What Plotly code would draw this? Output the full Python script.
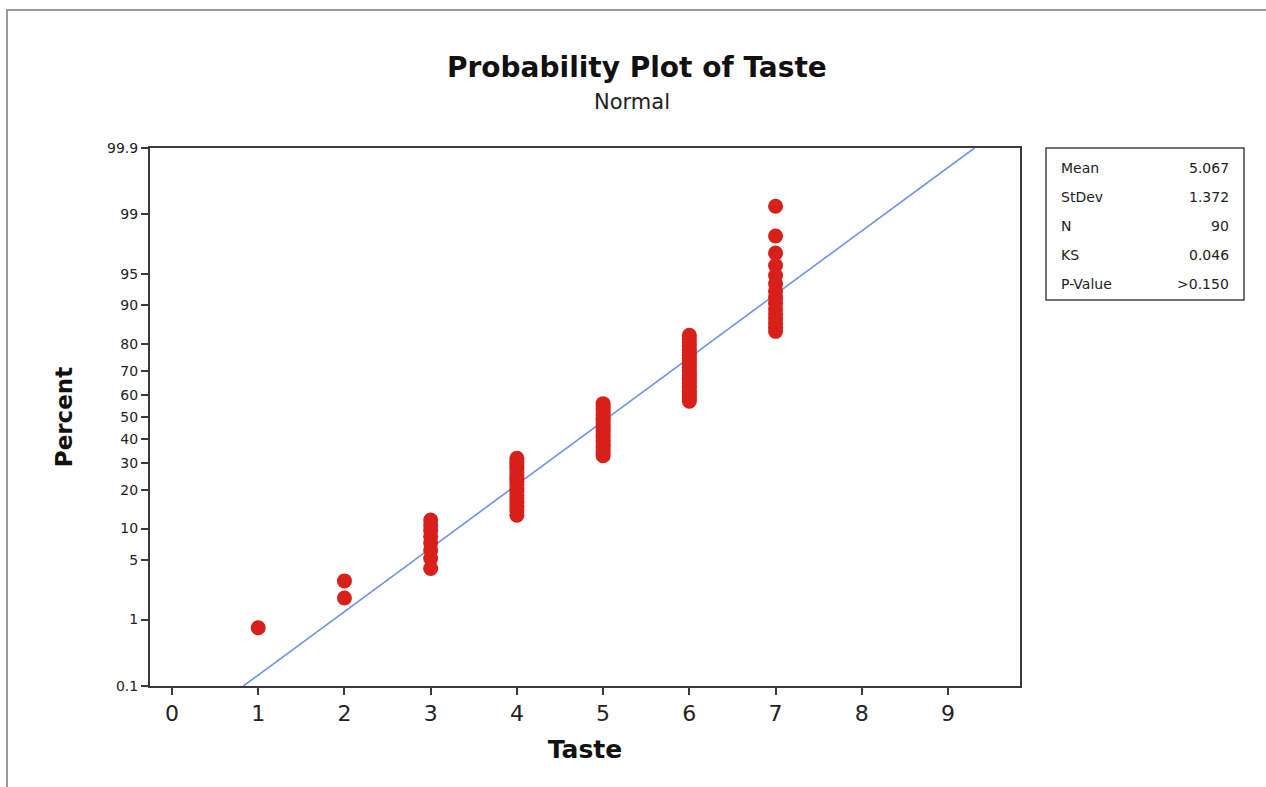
import plotly.graph_objects as go
from statistics import NormalDist

# ---- data ----
taste_levels = [1, 2, 3, 4, 5, 6, 7]
taste_counts = [1, 2, 8, 18, 22, 24, 15]
fit_mean = 5.067
fit_stdev = 1.372
stats_labels = ["Mean", "StDev", "N", "KS", "P-Value"]
stats_values = ["5.067", "1.372", "90", "0.046", ">0.150"]
y_tick_pct = [0.1, 1, 5, 10, 20, 30, 40, 50, 60, 70, 80, 90, 95, 99, 99.9]
y_tick_text = ["0.1", "1", "5", "10", "20", "30", "40", "50", "60", "70", "80", "90", "95", "99", "99.9"]
x_ticks = [0, 1, 2, 3, 4, 5, 6, 7, 8, 9]

nd = NormalDist()

# sorted observations and median-rank plotting positions (Minitab default)
taste = []
for v, c in zip(taste_levels, taste_counts):
    taste += [v] * c
n = len(taste)
pct = [(i - 0.3) / (n + 0.4) for i in range(1, n + 1)]
y_pts = [nd.inv_cdf(p) for p in pct]

# fitted normal line
zlo, zhi = nd.inv_cdf(0.001), nd.inv_cdf(0.999)
line_x = [fit_mean + zlo * fit_stdev, fit_mean + zhi * fit_stdev]
line_y = [zlo, zhi]

fig = go.Figure()
fig.add_trace(go.Scatter(x=line_x, y=line_y, mode="lines",
                         line=dict(color="#6f93e6", width=1.6),
                         hoverinfo="skip", showlegend=False))
fig.add_trace(go.Scatter(x=taste, y=y_pts, mode="markers",
                         marker=dict(color="#d8201a", size=15, line=dict(width=0)),
                         showlegend=False))

axis_col = "#3a3a3a"
fig.update_xaxes(range=[-0.255, 9.835], tickvals=x_ticks,
                 ticks="outside", ticklen=7, tickwidth=2, tickcolor=axis_col,
                 showline=True, linecolor=axis_col, linewidth=2, mirror=True,
                 showgrid=False, zeroline=False,
                 tickfont=dict(family="DejaVu Sans", size=22, color="#222"),
                 title=dict(text="<b>Taste</b>", standoff=15,
                            font=dict(family="DejaVu Sans", size=25, color="#111")))
fig.update_yaxes(range=[zlo, zhi],
                 tickvals=[nd.inv_cdf(p / 100) for p in y_tick_pct], ticktext=y_tick_text,
                 ticks="outside", ticklen=7, tickwidth=2, tickcolor=axis_col,
                 showline=True, linecolor=axis_col, linewidth=2, mirror=True,
                 showgrid=False, zeroline=False,
                 tickfont=dict(family="DejaVu Sans", size=14, color="#222"),
                 title=dict(text="<b>Percent</b>", standoff=28,
                            font=dict(family="DejaVu Sans", size=23, color="#111")))

# stats box
box_x0, box_x1 = (1046 - 150) / 870, (1244 - 150) / 870
box_y1, box_y0 = 1.0, (686 - 300) / 538
shapes = [dict(type="rect", xref="paper", yref="paper", x0=box_x0, x1=box_x1,
               y0=box_y0, y1=box_y1, line=dict(color="#444", width=1.5),
               fillcolor="white"),
          dict(type="rect", xref="paper", yref="paper",
               x0=(7 - 150) / 870, x1=(1300 - 150) / 870,
               y0=(686 - 800) / 538, y1=(686 - 10) / 538,
               line=dict(color="#9a9a9a", width=2), layer="below")]
annotations = []
row_h = (box_y1 - box_y0) / 5.25
for k, (lab, val) in enumerate(zip(stats_labels, stats_values)):
    yy = box_y1 - row_h * (k + 0.7)
    annotations.append(dict(xref="paper", yref="paper", x=box_x0 + 0.015, y=yy,
                            text=lab, showarrow=False, xanchor="left", yanchor="middle",
                            font=dict(family="DejaVu Sans", size=14, color="#222")))
    annotations.append(dict(xref="paper", yref="paper", x=box_x1 - 0.015, y=yy,
                            text=val, showarrow=False, xanchor="right", yanchor="middle",
                            font=dict(family="DejaVu Sans", size=14, color="#222")))

annotations.append(dict(xref="paper", yref="paper", x=(637 - 150) / 870, y=(686 - 67) / 538,
                        text="<b>Probability Plot of Taste</b>", showarrow=False,
                        xanchor="center", yanchor="middle",
                        font=dict(family="DejaVu Sans", size=28, color="#111")))
annotations.append(dict(xref="paper", yref="paper", x=(632 - 150) / 870, y=(686 - 102) / 538,
                        text="Normal", showarrow=False, xanchor="center", yanchor="middle",
                        font=dict(family="DejaVu Sans", size=21, color="#222")))

fig.update_layout(width=1266, height=787,
                  margin=dict(l=150, r=246, t=148, b=101),
                  paper_bgcolor="white", plot_bgcolor="white",
                  shapes=shapes, annotations=annotations)

fig.write_html("out.html")
